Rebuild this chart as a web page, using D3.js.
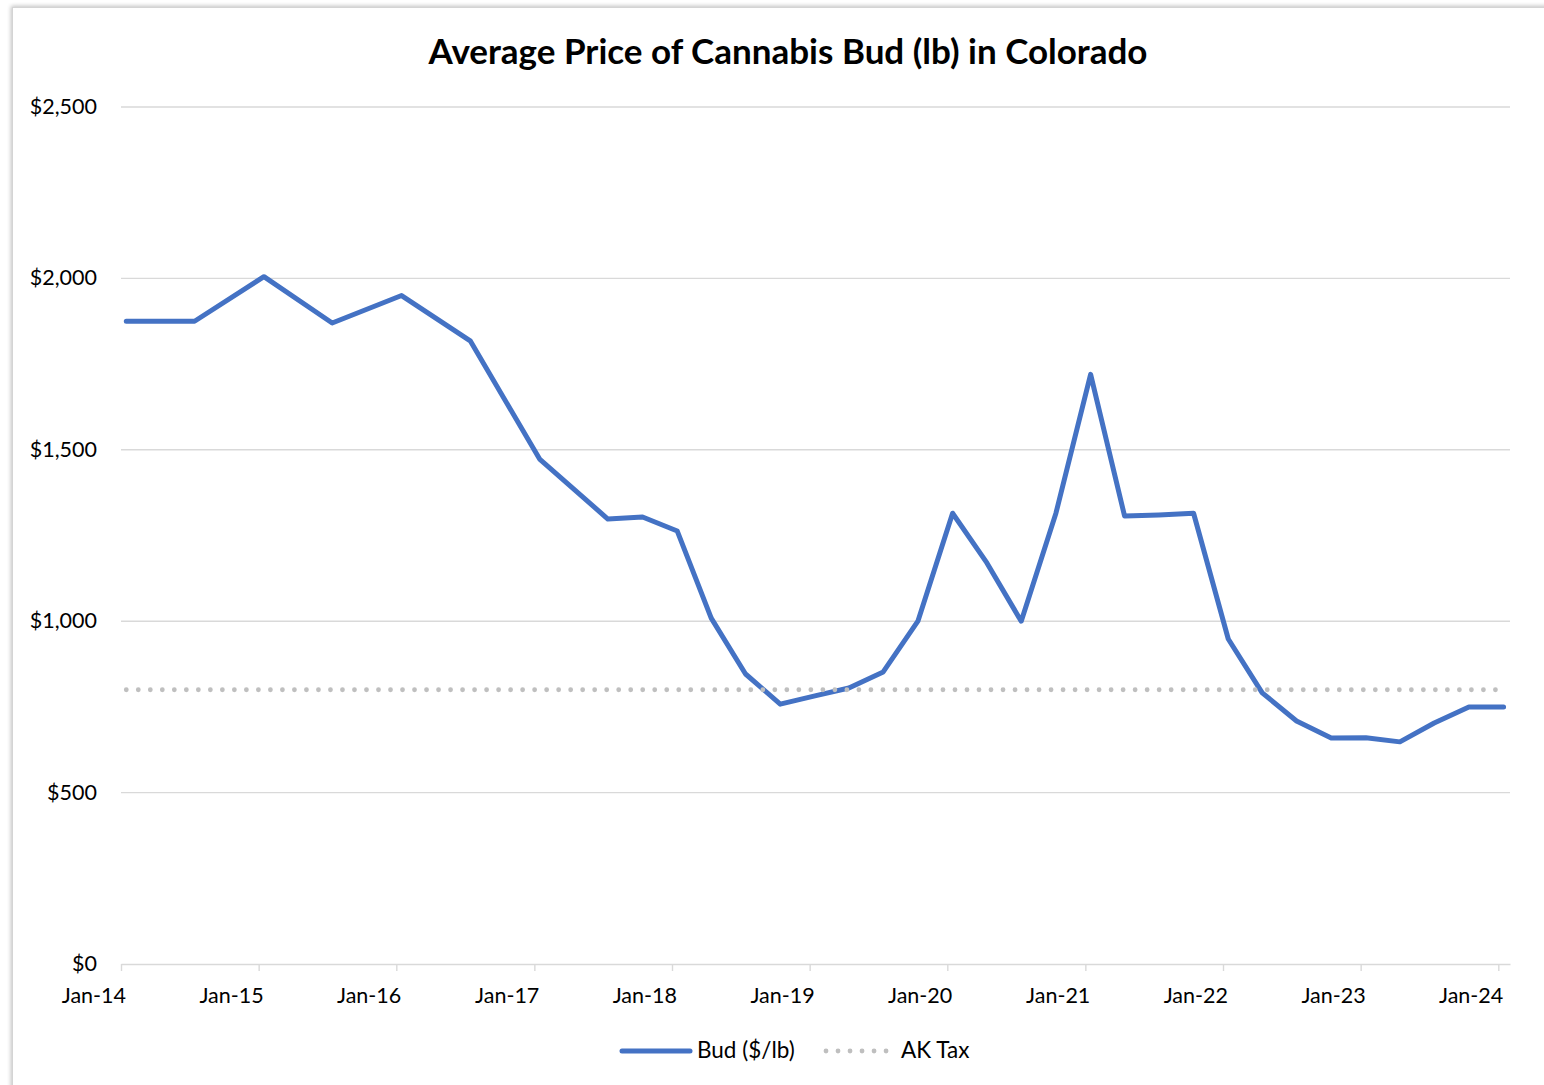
<!DOCTYPE html>
<html>
<head>
<meta charset="utf-8">
<script src="https://cdn.jsdelivr.net/npm/d3@7"></script>
<style>
  html, body { margin: 0; padding: 0; background: #fff; }
  svg { display: block; font-family: Lato, "Noto Sans", sans-serif; }
</style>
</head>
<body>
<div id="chart"></div>
<script>
// sample months (plotted at mid-month)
const months = [
  "2014-01", "2014-07", "2015-01", "2015-07", "2016-01", "2016-07", "2017-01",
  "2017-07", "2017-10", "2018-01", "2018-04", "2018-07", "2018-10",
  "2019-01", "2019-04", "2019-07", "2019-10", "2020-01", "2020-04", "2020-07", "2020-10",
  "2021-01", "2021-04", "2021-07", "2021-10", "2022-01", "2022-04", "2022-07", "2022-10",
  "2023-01", "2023-04", "2023-07", "2023-10", "2024-01"
];

const budPrice = [
  1875, 1875, 2005, 1870, 1950, 1818, 1473,
  1298, 1304, 1263, 1009, 846, 758,
  782, 805, 852, 1000, 1315, 1170, 1000, 1315,
  1720, 1307, 1310, 1315, 948, 791, 709, 659,
  660, 648, 703, 750, 750
];

const akTax = [
  800, 800, 800, 800, 800, 800, 800,
  800, 800, 800, 800, 800, 800,
  800, 800, 800, 800, 800, 800, 800, 800,
  800, 800, 800, 800, 800, 800, 800, 800,
  800, 800, 800, 800, 800
];

const yTicks = [0, 500, 1000, 1500, 2000, 2500];
const xTickYears = [2014, 2015, 2016, 2017, 2018, 2019, 2020, 2021, 2022, 2023, 2024];

const W = 1544, H = 1085;
const margin = { left: 121, right: 34, top: 107, bottom: 121 };
const labelSize = 21.5;

const svg = d3.select("#chart").append("svg")
  .attr("width", W).attr("height", H);

// chart frame with soft shadow
const defs = svg.append("defs");
const f = defs.append("filter").attr("id", "shadow")
  .attr("x", "-5%").attr("y", "-5%").attr("width", "110%").attr("height", "110%");
f.append("feGaussianBlur").attr("in", "SourceAlpha").attr("stdDeviation", 2);
f.append("feOffset").attr("dx", -1).attr("dy", -1);
f.append("feComponentTransfer").append("feFuncA").attr("type", "linear").attr("slope", 0.25);
const fm = f.append("feMerge");
fm.append("feMergeNode");
fm.append("feMergeNode").attr("in", "SourceGraphic");

svg.append("rect")
  .attr("x", 12.5).attr("y", 7.5)
  .attr("width", W + 50).attr("height", H + 50)
  .attr("fill", "#fff")
  .attr("stroke", "#d4d4d4")
  .attr("stroke-width", 1)
  .attr("filter", "url(#shadow)");

const parseMonth = d3.timeParse("%Y-%m");
const midMonth = m => {
  const d = parseMonth(m);
  return new Date(d.getFullYear(), d.getMonth(), 15);
};

const x = d3.scaleTime()
  .domain([new Date(2014, 0, 1), new Date(2024, 1, 1)])
  .range([margin.left, W - margin.right]);

const y = d3.scaleLinear()
  .domain([0, 2500])
  .range([H - margin.bottom, margin.top]);

// title
svg.append("text")
  .attr("x", 788).attr("y", 64)
  .attr("text-anchor", "middle")
  .attr("font-size", 35)
  .attr("font-weight", "bold")
  .attr("fill", "#000")
  .text("Average Price of Cannabis Bud (lb) in Colorado");

// gridlines
svg.append("g")
  .selectAll("line")
  .data(yTicks.filter(d => d > 0))
  .enter().append("line")
  .attr("x1", margin.left).attr("x2", W - margin.right)
  .attr("y1", d => y(d)).attr("y2", d => y(d))
  .attr("stroke", "#d9d9d9")
  .attr("stroke-width", 1.4);

// y axis labels
const fmt = d3.format("$,");
svg.append("g")
  .selectAll("text")
  .data(yTicks)
  .enter().append("text")
  .attr("x", 97)
  .attr("y", d => y(d) + 7)
  .attr("text-anchor", "end")
  .attr("font-size", labelSize)
  .attr("fill", "#000")
  .text(d => fmt(d));

// x axis
const xAxis = d3.axisBottom(x)
  .tickValues(xTickYears.map(yr => new Date(yr, 0, 1)))
  .tickSize(7)
  .tickSizeOuter(0)
  .tickFormat("");

const gx = svg.append("g")
  .attr("transform", `translate(0,${y(0)})`)
  .call(xAxis);
gx.select(".domain").attr("stroke", "#d9d9d9").attr("stroke-width", 1.4);
gx.selectAll(".tick line").attr("stroke", "#d9d9d9").attr("stroke-width", 1.4);

const xFmt = d3.timeFormat("%b-%y");
svg.append("g")
  .selectAll("text")
  .data(xTickYears)
  .enter().append("text")
  .attr("x", yr => x(new Date(yr, 0, 1)) + 5)
  .attr("y", 1003)
  .attr("text-anchor", "end")
  .attr("font-size", labelSize)
  .attr("fill", "#000")
  .text(yr => xFmt(new Date(yr, 0, 1)));

// series
const budData = months.map((m, i) => ({ date: midMonth(m), value: budPrice[i] }));
const taxData = months.map((m, i) => ({ date: midMonth(m), value: akTax[i] }));

const line = d3.line()
  .x(d => x(d.date))
  .y(d => y(d.value));

svg.append("path")
  .datum(budData)
  .attr("d", line)
  .attr("fill", "none")
  .attr("stroke", "#4472c4")
  .attr("stroke-width", 5)
  .attr("stroke-linejoin", "round")
  .attr("stroke-linecap", "round");

svg.append("path")
  .datum(taxData)
  .attr("d", line)
  .attr("fill", "none")
  .attr("stroke", "#bfbfbf")
  .attr("stroke-width", 4.8)
  .attr("stroke-linecap", "round")
  .attr("stroke-dasharray", "0.01 12");

// legend
const lg = svg.append("g");
lg.append("line")
  .attr("x1", 622).attr("x2", 690)
  .attr("y1", 1051).attr("y2", 1051)
  .attr("stroke", "#4472c4")
  .attr("stroke-width", 5)
  .attr("stroke-linecap", "round");
lg.append("text")
  .attr("x", 697).attr("y", 1058)
  .attr("font-size", 22.5)
  .attr("fill", "#000")
  .text("Bud ($/lb)");
lg.append("line")
  .attr("x1", 826).attr("x2", 888)
  .attr("y1", 1051).attr("y2", 1051)
  .attr("stroke", "#bfbfbf")
  .attr("stroke-width", 4.8)
  .attr("stroke-linecap", "round")
  .attr("stroke-dasharray", "0.01 12");
lg.append("text")
  .attr("x", 901).attr("y", 1058)
  .attr("font-size", 22.5)
  .attr("fill", "#000")
  .text("AK Tax");
</script>
</body>
</html>
